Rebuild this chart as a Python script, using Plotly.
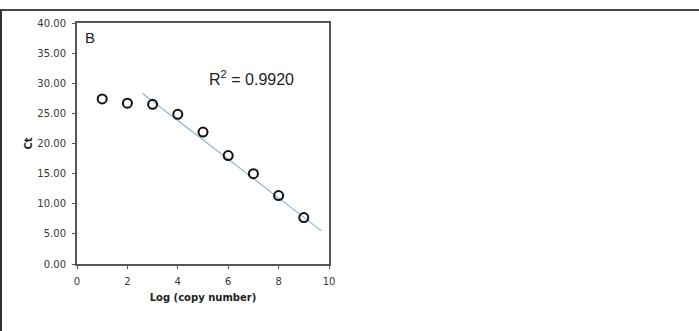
import plotly.graph_objects as go

log_copy = [1, 2, 3, 4, 5, 6, 7, 8, 9]
ct_values = [27.4, 26.7, 26.5, 24.85, 21.9, 18.0, 15.0, 11.35, 7.7]
trend_x = [2.6, 9.7]
trend_y = [28.3, 5.5]
y_ticks = [0, 5, 10, 15, 20, 25, 30, 35, 40]
y_tick_labels = ["0.00", "5.00", "10.00", "15.00", "20.00", "25.00", "30.00", "35.00", "40.00"]
x_ticks = [0, 2, 4, 6, 8, 10]

W, H = 699, 331
ML, MR, MT, MB = 77, 370, 23, 67
pw, ph = W - ML - MR, H - MT - MB

fig = go.Figure()
fig.add_trace(go.Scatter(x=trend_x, y=trend_y, mode="lines",
                         line=dict(color="#8ab6d9", width=1.2), showlegend=False, hoverinfo="skip"))
fig.add_trace(go.Scatter(x=log_copy, y=ct_values, mode="markers",
                         marker=dict(symbol="circle-open", size=9, color="#111111", line=dict(width=2, color="#111111")),
                         showlegend=False))

fig.update_layout(
    width=W, height=H,
    margin=dict(l=ML, r=MR, t=MT, b=MB),
    paper_bgcolor="white", plot_bgcolor="white",
    font=dict(family="DejaVu Sans", size=10, color="#383838"),
    xaxis=dict(range=[0, 10], tickvals=x_ticks, ticks="outside", ticklen=3, tickcolor="#555",
               ticklabelstandoff=4,
               showgrid=False, zeroline=False, showline=True, linecolor="#555", linewidth=2, mirror=True,
               title=dict(text="<b>Log (copy number)</b>", font=dict(family="DejaVu Sans", size=10, color="#222"), standoff=8),
               tickfont=dict(size=10, color="#383838")),
    yaxis=dict(range=[0, 40], tickvals=y_ticks, ticktext=y_tick_labels, ticks="outside", ticklen=3, tickcolor="#555",
               ticklabelstandoff=4,
               showgrid=False, zeroline=False, showline=True, linecolor="#555", linewidth=2, mirror=True,
               title=dict(text="<b>Ct</b>", font=dict(family="DejaVu Sans", size=10, color="#222"), standoff=3),
               tickfont=dict(size=10, color="#383838")),
)

fig.add_annotation(text="B", xref="paper", yref="paper", x=(90 - ML) / pw, y=1 - (37 - MT) / ph,
                   xanchor="center", yanchor="middle",
                   showarrow=False, font=dict(family="Liberation Sans", size=15, color="#222"))
fig.add_annotation(text="R<sup>2</sup> = 0.9920", xref="paper", yref="paper", x=(251 - ML) / pw, y=1 - (78 - MT) / ph,
                   xanchor="center", yanchor="middle",
                   showarrow=False, font=dict(family="Liberation Sans", size=16, color="#222"))

# outer frame lines (top and left)
fig.add_shape(type="line", xref="paper", yref="paper",
              x0=(0 - ML) / pw, x1=(W - ML) / pw, y0=1 + (MT - 10) / ph, y1=1 + (MT - 10) / ph,
              line=dict(color="#444", width=2))
fig.add_shape(type="line", xref="paper", yref="paper",
              x0=(1 - ML) / pw, x1=(1 - ML) / pw, y0=1 + (MT - 10) / ph, y1=-(MB + 2) / ph,
              line=dict(color="#333", width=2))

fig.write_html("out.html", config={"displayModeBar": False},
               post_script="document.body.style.margin='0';document.body.style.padding='0';")
